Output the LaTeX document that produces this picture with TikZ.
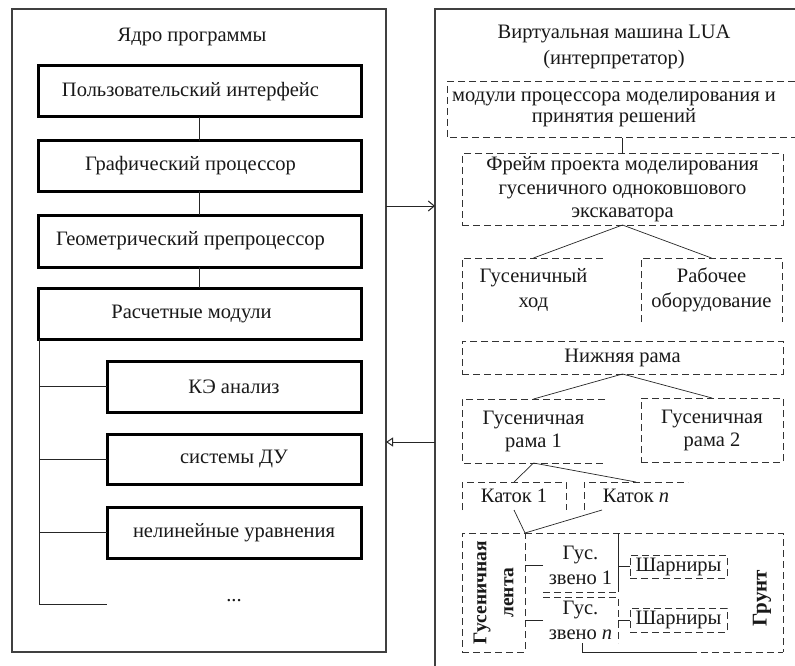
\documentclass[tikz,border=0pt]{standalone}
\usepackage{fontspec}
\setmainfont{Liberation Serif}
\usetikzlibrary{arrows.meta}
\begin{document}
\begin{tikzpicture}[x=1pt,y=-1pt,
  every node/.style={text=black!90, font=\fontsize{20.5}{23}\selectfont, inner sep=0pt, outer sep=0pt},
  thickbox/.style={draw, line width=3pt, align=center},
  dbox/.style={draw=black!80, line width=1pt, dash pattern=on 7pt off 4pt},
  dline/.style={draw=black!80, line width=1pt, dash pattern=on 7pt off 4pt},
  thinline/.style={draw=black!85, line width=0.7pt},
  conn/.style={draw=black!85, line width=1pt},
  outer/.style={draw=black!75, line width=1.2pt},
  txt/.style={align=center}
]
\useasboundingbox (0,0) rectangle (795,666);
\fill[white] (0,0) rectangle (795,666);

% ---------- left: program core ----------
\node[outer, minimum width=374pt, minimum height=643pt] (outerL) at (199,330.5) {};
\node[txt] (ltitle) at (192,37) {Ядро программы};
\node[thickbox, minimum width=323pt, minimum height=51pt] (b1) at (199.5,91.5) {\hspace*{-18pt}Пользовательский интерфейс};
\node[thickbox, minimum width=323pt, minimum height=50pt] (b2) at (199.5,166) {\hspace*{-18pt}Графический процессор};
\node[thickbox, minimum width=323pt, minimum height=52pt] (b3) at (199.5,241) {\hspace*{-18pt}Геометрический препроцессор};
\node[thickbox, minimum width=323pt, minimum height=51pt] (b4) at (199.5,313.5) {\hspace*{-16pt}Расчетные модули};
\node[thickbox, minimum width=254pt, minimum height=51pt] (s1) at (234,386.5) {КЭ анализ};
\node[thickbox, minimum width=254pt, minimum height=50pt] (s2) at (234,459) {системы ДУ};
\node[thickbox, minimum width=254pt, minimum height=51pt] (s3) at (234,532.5) {нелинейные уравнения};
\node[txt] (dots) at (234,601) {...};
\coordinate (trTop) at (39,339);
\coordinate (trEnd) at (39,604);
\coordinate (brEnd) at (107,604);
\draw[conn] (b1.south) -- (b2.north);
\draw[conn] (b2.south) -- (b3.north);
\draw[conn] (b3.south) -- (b4.north);
\draw[conn] (trTop) -- (trEnd) -- (brEnd);
\draw[conn] (s1.west) -- (s1.west -| trTop);
\draw[conn] (s2.west) -- (s2.west -| trTop);
\draw[conn] (s3.west) -- (s3.west -| trTop);

% ---------- right: virtual machine ----------
\coordinate (rTR) at (795,9);
\coordinate (rTL) at (435,9);
\coordinate (rBL) at (435,666);
\draw[outer] (rTR) -- (rTL) -- (rBL);
\node[txt, font=\fontsize{20.5}{26}\selectfont] (rtitle) at (614,47) {Виртуальная машина LUA\\(интерпретатор)};

% arrows between the two parts
\coordinate (a1) at (435,206);
\coordinate (a2) at (435,442);
\draw[conn, -{Straight Barb[length=6pt,width=10pt]}] (outerL.east |- a1) -- (a1);
\draw[conn, -{Triangle[open,length=7pt,width=9pt]}] (a2) -- (outerL.east |- a2);

% modules
\node[txt, font=\fontsize{20.5}{21}\selectfont] (mods) at (614,109) {модули процессора моделирования и\\принятия решений};
\coordinate (mTR) at (795,82);
\coordinate (mTL) at (447,82);
\coordinate (mBL) at (447,138);
\coordinate (mBR) at (795,138);
\draw[dline] (mTR) -- (mTL) -- (mBL) -- (mBR);

\node[dbox, txt, minimum width=321pt, minimum height=71pt, font=\fontsize{20.5}{23.5}\selectfont] (frame) at (622.5,189.5) {Фрейм проекта моделирования\\гусеничного одноковшового\\экскаватора};
\draw[conn] (frame.north) -- (frame.north |- mBL);

% hod / rab
\node[txt, minimum width=143pt, minimum height=64pt, font=\fontsize{20.5}{25}\selectfont] (hod) at (533.5,290) {Гусеничный\\ход};
\draw[dline] (hod.south west) -- (hod.north west) -- (hod.north east);
\node[txt, minimum width=141pt, minimum height=64pt, font=\fontsize{20.5}{25}\selectfont] (rab) at (711.5,290) {Рабочее\\оборудование};
\draw[dline] (rab.south west) -- (rab.north west) -- (rab.north east) -- (rab.south east);
\draw[thinline] (frame.south) -- (hod.north);
\draw[thinline] (frame.south) -- (rab.north);

% lower frame
\node[dbox, txt, minimum width=321pt, minimum height=33pt] (nizh) at (622.5,357.5) {Нижняя рама};
\node[txt, minimum width=143pt, minimum height=64pt, font=\fontsize{20.5}{23}\selectfont] (rama1) at (533.5,431) {Гусеничная\\рама 1};
\draw[dline] (rama1.north east) -- (rama1.north west) -- (rama1.south west) -- (rama1.south east);
\node[dbox, txt, minimum width=142pt, minimum height=64pt, font=\fontsize{20.5}{23}\selectfont] (rama2) at (712,430) {Гусеничная\\рама 2};
\draw[thinline] (nizh.south) -- (rama1.north);
\draw[thinline] (nizh.south) -- (rama2.north);

% rollers
\node[txt, minimum width=104pt, minimum height=28pt] (k1) at (514,496) {Каток 1};
\draw[dline] (k1.south west) -- (k1.north west) -- (k1.north east) -- (k1.south east);
\node[txt, minimum width=104pt, minimum height=28pt] (kn) at (636,496) {Каток \textit{n}};
\draw[dline] (kn.south west) -- (kn.north west) -- (kn.north east);
\draw[thinline] (rama1.south) -- (k1.north);
\draw[thinline] (rama1.south) -- (kn.north);

% track band
\node[dbox, minimum width=63pt, minimum height=119pt] (lenta) at (493.5,592.5) {};
\node[txt, rotate=90, font=\bfseries\fontsize{19.5}{27}\selectfont] (lentatxt) at (lenta.center) {Гусеничная\\лента};
\draw[thinline] (k1.south) -- (lenta.north east);
\coordinate (knb) at (602,510);
\draw[thinline] (knb) -- (lenta.north east);

% ground box
\coordinate (gTR) at (783,533);
\coordinate (gBR) at (783,652);
\coordinate (gBL) at (582,652);
\coordinate (gBLu) at (582,643);
\coordinate (gBM) at (690,652);
\draw[dline] (lenta.north east) -- (gTR) -- (gBR);
\draw[conn] (gBLu) -- (gBL) -- (gBM);
\draw[dline] (gBM) -- (gBR);
\node[txt, rotate=90, font=\bfseries\fontsize{21}{24}\selectfont] (grunt) at (762,598) {Грунт};

% links
\node[txt, minimum width=75pt, minimum height=54pt, font=\fontsize{20.5}{25}\selectfont] (z1) at (580.5,565) {Гус.\\звено 1};
\node[txt, minimum width=75pt, minimum height=46pt, font=\fontsize{20.5}{25}\selectfont] (zn) at (580.5,620) {Гус.\\звено \textit{n}};
\coordinate (vTop) at (618,533);
\coordinate (vMid) at (618,592);
\coordinate (vBot) at (618,643);
\draw[conn] (vTop) -- (vMid);
\draw[dline] (z1.south west) -- (z1.south east);
\draw[dline] (zn.north west) -- (zn.north east) -- (vBot);
\draw[conn] (z1.west) -- (z1.west -| lenta.east);
\draw[conn] (zn.west) -- (zn.west -| lenta.east);

\node[dbox, txt, minimum width=97pt, minimum height=23pt] (sh1) at (678.5,566.5) {Шарниры};
\node[dbox, txt, minimum width=97pt, minimum height=24pt] (sh2) at (678.5,620) {Шарниры};
\draw[conn] (sh1.west) -- (sh1.west -| vTop);
\draw[conn] (sh2.west) -- (sh2.west -| vTop);
\end{tikzpicture}
\end{document}
